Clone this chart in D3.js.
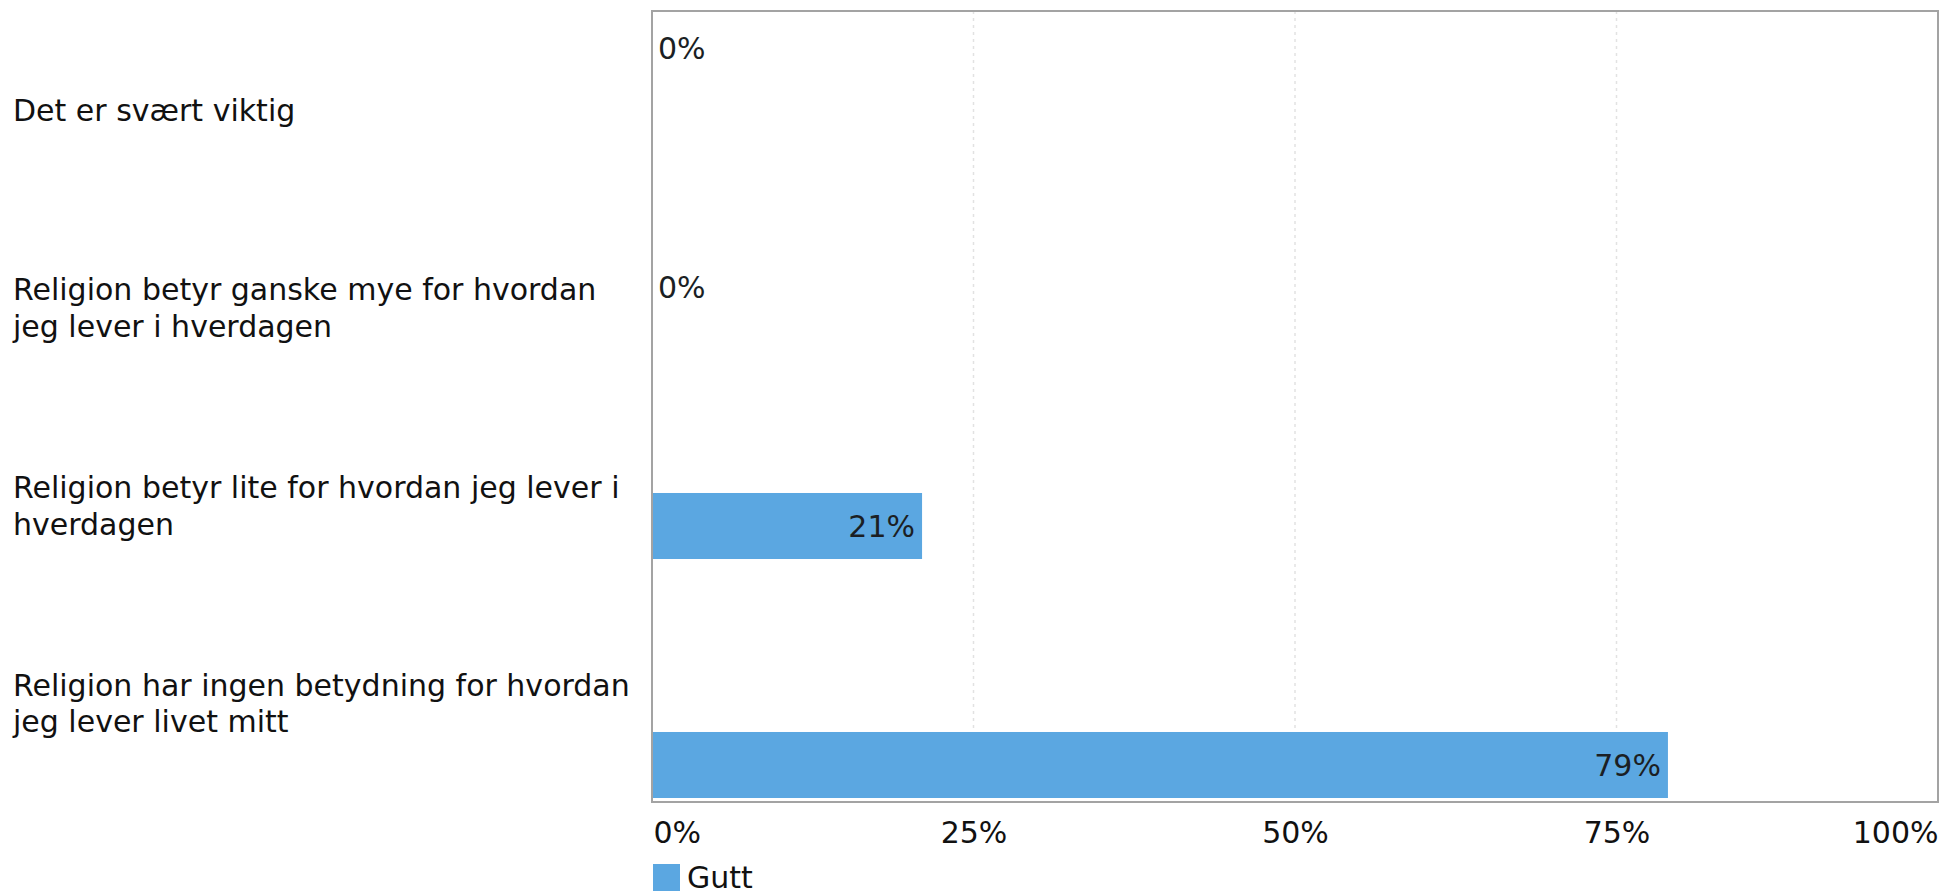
<!DOCTYPE html>
<html>
<head>
<meta charset="utf-8">
<script src="https://cdn.jsdelivr.net/npm/d3@7"></script>
<style>
  html, body { margin: 0; padding: 0; background: #fff; }
  svg { display: block; }
  text { font-family: "DejaVu Sans", Verdana, sans-serif; fill: #111; }
</style>
</head>
<body>
<svg id="chart" width="1942" height="896"></svg>
<script>
const categories = [
  "Det er svært viktig",
  "Religion betyr ganske mye for hvordan jeg lever i hverdagen",
  "Religion betyr lite for hvordan jeg lever i hverdagen",
  "Religion har ingen betydning for hvordan jeg lever livet mitt"
];
const values = [0, 0, 21, 79];
const xTicks = [0, 25, 50, 75, 100];
const seriesName = "Gutt";

const W = 1942, H = 896;
const plot = { left: 652, right: 1938, top: 11, bottom: 802 };
const fontSize = 30;
const barColor = "#5ba7e1";

const svg = d3.select("#chart");

const x = d3.scaleLinear().domain([0, 100]).range([plot.left, plot.right]);
const yLabel = d3.scaleBand().domain(categories).range([plot.top, plot.bottom]);
const yBar = d3.scaleBand().domain(categories).range([-71.5, 884.5])
  .paddingInner(0.7238).paddingOuter(0.3619);

// gridlines
svg.append("g").selectAll("line")
  .data(xTicks.filter(t => t > 0 && t < 100))
  .join("line")
  .attr("x1", d => x(d)).attr("x2", d => x(d))
  .attr("y1", plot.top).attr("y2", plot.bottom)
  .attr("stroke", "#e2e2e2").attr("stroke-width", 1.5)
  .attr("stroke-dasharray", "3,4");

// bars
svg.append("clipPath").attr("id", "plotclip")
  .append("rect").attr("x", plot.left).attr("y", plot.top)
  .attr("width", plot.right - plot.left).attr("height", plot.bottom - plot.top);

const bars = svg.append("g").attr("clip-path", "url(#plotclip)");
bars.selectAll("rect")
  .data(categories)
  .join("rect")
  .attr("x", x(0))
  .attr("y", d => yBar(d))
  .attr("width", (d, i) => x(values[i]) - x(0))
  .attr("height", yBar.bandwidth())
  .attr("fill", barColor);

// value labels
svg.append("g").selectAll("text")
  .data(categories)
  .join("text")
  .attr("x", (d, i) => values[i] > 0 ? x(values[i]) - 7 : x(0) + 6)
  .attr("y", d => yBar(d) + yBar.bandwidth() / 2)
  .attr("dy", "0.36em")
  .attr("text-anchor", (d, i) => values[i] > 0 ? "end" : "start")
  .attr("font-size", fontSize)
  .style("fill", "#1b1f24")
  .text((d, i) => values[i] + "%");

// plot border
svg.append("rect")
  .attr("x", plot.left).attr("y", plot.top)
  .attr("width", plot.right - plot.left).attr("height", plot.bottom - plot.top)
  .attr("fill", "none").attr("stroke", "#a3a3a3").attr("stroke-width", 2);

// category labels with wrapping
const maxLabelWidth = 635;
const lineHeight = 36.5;
const labelG = svg.append("g");
categories.forEach(cat => {
  const t = labelG.append("text")
    .attr("x", 13)
    .attr("font-size", fontSize);
  const words = cat.split(" ");
  const lines = [];
  let cur = [];
  const probe = t.append("tspan");
  words.forEach(w => {
    const test = cur.concat([w]).join(" ");
    probe.text(test);
    if (probe.node().getComputedTextLength() > maxLabelWidth && cur.length) {
      lines.push(cur.join(" "));
      cur = [w];
    } else {
      cur.push(w);
    }
  });
  if (cur.length) lines.push(cur.join(" "));
  probe.remove();
  const center = yLabel(cat) + yLabel.bandwidth() / 2;
  const firstBaseline = center - (lines.length - 1) * lineHeight / 2 + 11;
  lines.forEach((ln, i) => {
    t.append("tspan").attr("x", 13)
      .attr("y", firstBaseline + i * lineHeight)
      .text(ln);
  });
});

// x axis
const axis = d3.axisBottom(x).tickValues(xTicks).tickSize(0).tickFormat(d => d + "%");
const axG = svg.append("g").attr("transform", `translate(0,${plot.bottom})`).call(axis);
axG.select(".domain").remove();
axG.selectAll("text")
  .attr("font-size", fontSize)
  .attr("font-family", '"DejaVu Sans", Verdana, sans-serif')
  .attr("y", 41).attr("dy", null)
  .style("fill", "#111")
  .attr("text-anchor", d => d === 0 ? "start" : (d === 100 ? "end" : "middle"))
  .attr("x", d => d === 0 ? 1 : 0);

// legend
const lg = svg.append("g");
lg.append("rect").attr("x", 653).attr("y", 864).attr("width", 27).attr("height", 27).attr("fill", barColor);
lg.append("text").attr("x", 687).attr("y", 888).attr("font-size", fontSize).text(seriesName);
</script>
</body>
</html>
